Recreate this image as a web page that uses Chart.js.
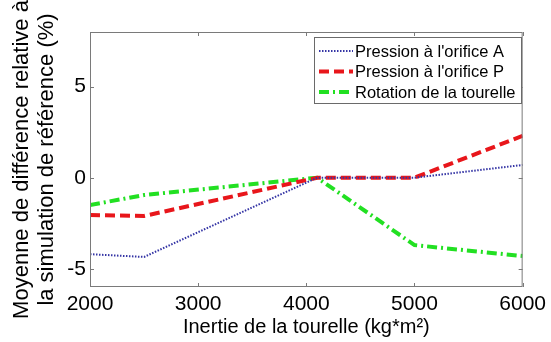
<!DOCTYPE html>
<html>
<head>
<meta charset="utf-8">
<script src="https://cdn.jsdelivr.net/npm/chart.js"></script>
<style>
  html, body { margin: 0; padding: 0; background: #fff; }
  #wrap { width: 551px; height: 342px; }
</style>
</head>
<body>
<div id="wrap"><canvas id="graph"></canvas></div>
<script>
// valeurs
const inertie = [2000, 2500, 4100, 5000, 6000];
const pressionA = [-4.2, -4.35, 0, 0, 0.7];
const pressionP = [-2.05, -2.1, 0, 0, 2.3];
const rotation = [-1.5, -0.95, 0, -3.7, -4.3];
const xTicks = [2000, 3000, 4000, 5000, 6000];
const yTicks = [-5, 0, 5];

const police = "'Liberation Sans', Arial, sans-serif";

// cadre + graduations vers l'intérieur (style matlab)
const cadre = {
  id: 'cadre',
  afterDraw(chart) {
    const ctx = chart.ctx;
    const a = chart.chartArea;
    const sx = chart.scales.x, sy = chart.scales.y;
    ctx.save();
    ctx.strokeStyle = '#7a7a7a';
    ctx.lineWidth = 1;
    ctx.strokeRect(a.left + 0.5, a.top + 0.5, a.right - a.left - 1, a.bottom - a.top - 1);
    ctx.beginPath();
    xTicks.forEach(v => {
      const px = Math.round(sx.getPixelForValue(v)) + 0.5;
      ctx.moveTo(px, a.bottom); ctx.lineTo(px, a.bottom - 4);
      ctx.moveTo(px, a.top); ctx.lineTo(px, a.top + 4);
    });
    yTicks.forEach(v => {
      const py = Math.round(sy.getPixelForValue(v)) + 0.5;
      ctx.moveTo(a.left, py); ctx.lineTo(a.left + 4, py);
      ctx.moveTo(a.right, py); ctx.lineTo(a.right - 4, py);
    });
    ctx.stroke();
    ctx.restore();
  }
};

// légende dans le coin haut droit
const legende = {
  id: 'legende',
  afterDraw(chart) {
    const ctx = chart.ctx;
    const x0 = 314, y0 = 37, w = 207, h = 66;
    ctx.save();
    ctx.fillStyle = '#fff';
    ctx.fillRect(x0, y0, w, h);
    ctx.strokeStyle = '#6a6a6a';
    ctx.lineWidth = 1;
    ctx.strokeRect(x0 + 0.5, y0 + 0.5, w, h);
    ctx.font = '16.5px ' + police;
    ctx.textBaseline = 'middle';
    chart.data.datasets.forEach((ds, i) => {
      const y = y0 + 14 + i * 20.5;
      ctx.beginPath();
      ctx.strokeStyle = ds.borderColor;
      ctx.lineWidth = ds.borderWidth;
      ctx.setLineDash(ds.borderDash);
      ctx.moveTo(x0 + 5, y);
      ctx.lineTo(x0 + 39, y);
      ctx.stroke();
      ctx.setLineDash([]);
      ctx.fillStyle = '#000';
      ctx.fillText(ds.label, x0 + 41, y + 1);
    });
    ctx.restore();
  }
};

new Chart(document.getElementById('graph'), {
  type: 'line',
  data: {
    labels: inertie,
    datasets: [
      { label: "Pression à l'orifice A", data: pressionA, borderColor: '#3535a5', borderWidth: 2, borderDash: [1.5, 1.5] },
      { label: "Pression à l'orifice P", data: pressionP, borderColor: '#e8161b', borderWidth: 4, borderDash: [10, 5] },
      { label: 'Rotation de la tourelle', data: rotation, borderColor: '#22e022', borderWidth: 4, borderDash: [10, 4, 2, 4] }
    ].map(d => Object.assign(d, { pointRadius: 0, tension: 0, fill: false, borderCapStyle: 'butt' }))
  },
  options: {
    responsive: true,
    maintainAspectRatio: false,
    animation: false,
    layout: { padding: { top: 32, right: 25, left: 0, bottom: 0 } },
    plugins: { legend: { display: false }, tooltip: { enabled: false } },
    scales: {
      x: {
        type: 'linear',
        min: 2000, max: 6000,
        afterBuildTicks: s => { s.ticks = xTicks.map(v => ({ value: v })); },
        afterFit: s => { s.height = 55; },
        grid: { display: false, drawTicks: false },
        border: { display: false },
        ticks: { color: '#000', padding: 5, maxRotation: 0, font: { family: police, size: 21 }, callback: v => String(v) },
        title: { display: true, text: 'Inertie de la tourelle (kg*m²)', color: '#000', font: { family: police, size: 20 }, padding: { top: 0, bottom: 3 } }
      },
      y: {
        min: -6, max: 8,
        afterBuildTicks: s => { s.ticks = yTicks.map(v => ({ value: v })); },
        afterFit: s => { s.width = 90; },
        grid: { display: false, drawTicks: false },
        border: { display: false },
        ticks: { color: '#000', padding: 4, font: { family: police, size: 21 }, callback: v => String(v) },
        title: { display: true, text: ['Moyenne de différence relative à', 'la simulation de référence (%)'], color: '#000', font: { family: police, size: 22, lineHeight: 1.13 }, padding: { top: 10, bottom: 0 } }
      }
    }
  },
  plugins: [cadre, legende]
});
</script>
</body>
</html>
